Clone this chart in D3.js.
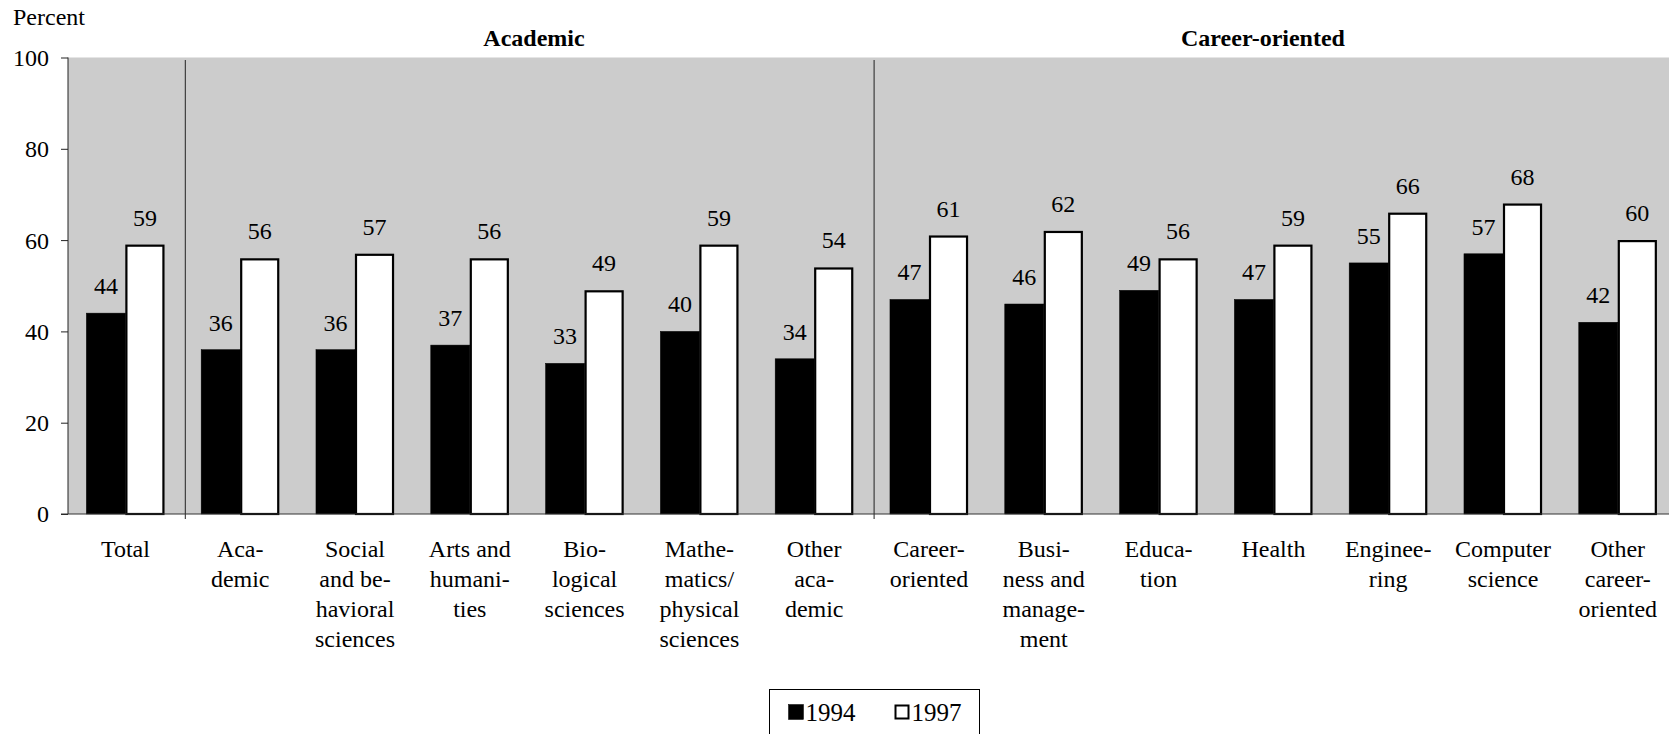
<html><head><meta charset="utf-8">
<script src="https://cdn.jsdelivr.net/npm/d3@7/dist/d3.min.js"></script>
</head><body style="margin:0">
<svg id="s" width="1669" height="734"></svg>
<script>
// ---- Data ----
const categories = [
  "Total",
  "Aca-\ndemic",
  "Social\nand be-\nhavioral\nsciences",
  "Arts and\nhumani-\nties",
  "Bio-\nlogical\nsciences",
  "Mathe-\nmatics/\nphysical\nsciences",
  "Other\naca-\ndemic",
  "Career-\noriented",
  "Busi-\nness and\nmanage-\nment",
  "Educa-\ntion",
  "Health",
  "Enginee-\nring",
  "Computer\nscience",
  "Other\ncareer-\noriented"
];
const seriesNames = ["1994", "1997"];
const values1994 = [44, 36, 36, 37, 33, 40, 34, 47, 46, 49, 47, 55, 57, 42];
const values1997 = [59, 56, 57, 56, 49, 59, 54, 61, 62, 56, 59, 66, 68, 60];
const yTicks = [0, 20, 40, 60, 80, 100];
const groupHeaders = ["Academic", "Career-oriented"];
const groupBoundaries = [1, 7]; // index of first category after each separator

const FONT = "Liberation Serif";
const FS = 24;
const svg = d3.select("#s");
const W = 1669;
const pLeft = 68, pTop = 57.5, pBottom = 514;
const step = 114.8;
const pRight = pLeft + step * categories.length;

const x0 = d3.scaleBand().domain(d3.range(categories.length))
  .range([pLeft, pRight]).paddingInner(0.32).paddingOuter(0.16);
const x1 = d3.scaleBand().domain(seriesNames).range([0, x0.bandwidth()]);
const y = d3.scaleLinear().domain([0, 100]).range([pBottom, pTop]);

const fill = { "1994": "#000000", "1997": "#ffffff" };
const data = categories.map((c, i) => ({ i, c, vals: [
  { s: "1994", v: values1994[i] }, { s: "1997", v: values1997[i] } ] }));

function txt(sel, size, weight) {
  return sel.style("font-family", FONT).style("font-size", size + "px")
    .style("font-weight", weight || "normal").attr("fill", "#000");
}

// plot background
svg.append("rect").attr("x", pLeft).attr("y", y(100))
  .attr("width", W - pLeft).attr("height", y(0) - y(100))
  .attr("fill", "#cccccc");

// separators
groupBoundaries.forEach(b => {
  const xs = x0(b) - x0.step() * x0.paddingInner() / 2 + 2.5;
  svg.append("line").attr("x1", xs).attr("x2", xs)
    .attr("y1", pTop + 2.5).attr("y2", pBottom + 5)
    .attr("stroke", "#222").attr("stroke-width", 1);
});

// bars
const g = svg.append("g").selectAll("g").data(data).join("g")
  .attr("transform", d => `translate(${x0(d.i)},0)`);
g.selectAll("rect").data(d => d.vals).join("rect")
  .attr("x", d => x1(d.s) + (d.s === "1997" ? 1 : 0))
  .attr("y", d => y(d.v) + (d.s === "1997" ? 1 : 0))
  .attr("width", d => x1.bandwidth() - (d.s === "1997" ? 2 : 0))
  .attr("height", d => y(0) - y(d.v) - (d.s === "1997" ? 1 : 0))
  .attr("fill", d => fill[d.s])
  .attr("stroke", "#000")
  .attr("stroke-width", d => d.s === "1997" ? 2.2 : 0.5);
txt(g.selectAll("text.val").data(d => d.vals).join("text").attr("class", "val")
  .attr("x", d => x1(d.s) + x1.bandwidth() / 2)
  .attr("y", d => y(d.v) - 19)
  .attr("text-anchor", "middle"), FS)
  .text(d => d.v);

// y axis
const yAxis = d3.axisLeft(y).tickValues(yTicks).tickSize(7).tickPadding(12);
const ya = svg.append("g").attr("transform", `translate(${pLeft},0)`).call(yAxis);
ya.attr("font-family", FONT).attr("font-size", FS);
ya.select(".domain").attr("stroke", "#222").attr("d", `M0,${y(100)}V${y(0)}`);
ya.selectAll(".tick line").attr("stroke", "#222");
txt(ya.selectAll(".tick text"), FS).attr("dy", "0.33em");

// x axis baseline
svg.append("line").attr("x1", pLeft - 7).attr("x2", W)
  .attr("y1", y(0)).attr("y2", y(0)).attr("stroke", "#333").attr("stroke-width", 1.2);

// x labels
const xl = txt(svg.append("g").selectAll("text").data(data).join("text")
  .attr("x", d => x0(d.i) + x0.bandwidth() / 2)
  .attr("y", 557)
  .attr("text-anchor", "middle"), FS);
xl.selectAll("tspan").data(d => d.c.split("\n").map(t => ({ t, x: x0(d.i) + x0.bandwidth() / 2 })))
  .join("tspan")
  .attr("x", d => d.x)
  .attr("dy", (d, k) => k === 0 ? 0 : 30)
  .text(d => d.t);

// "Percent"
txt(svg.append("text").attr("x", 13).attr("y", 25), FS).text("Percent");

// group headers
const headerX = [534, 1263];
groupHeaders.forEach((h, k) => {
  txt(svg.append("text").attr("x", headerX[k]).attr("y", 46)
    .attr("text-anchor", "middle"), FS, "bold").text(h);
});

// legend
const lg = svg.append("g");
lg.append("rect").attr("x", 769.5).attr("y", 689.5).attr("width", 210).attr("height", 60)
  .attr("fill", "#fff").attr("stroke", "#000").attr("stroke-width", 1);
const legX = [788.5, 894.5];
seriesNames.forEach((s, k) => {
  lg.append("rect").attr("x", legX[k] + (s === "1997" ? 1 : 0)).attr("y", 704.5 + (s === "1997" ? 1 : 0))
    .attr("width", s === "1997" ? 13 : 15).attr("height", s === "1997" ? 13 : 15)
    .attr("fill", fill[s]).attr("stroke", "#000").attr("stroke-width", s === "1997" ? 2 : 0.5);
  txt(lg.append("text").attr("x", legX[k] + 17).attr("y", 721), 25).text(s);
});
</script></body></html>
